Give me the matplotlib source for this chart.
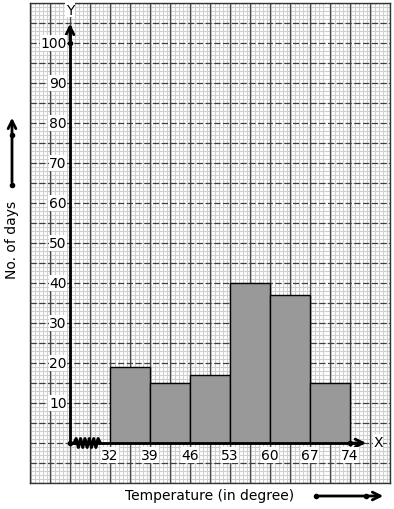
import numpy as np
import matplotlib.pyplot as plt
from matplotlib.ticker import MultipleLocator

# Adatok
edges = [32, 39, 46, 53, 60, 67, 74]
days = [19, 15, 17, 40, 37, 15]
y_labels = [10, 20, 30, 40, 50, 60, 70, 80, 90, 100]

fig = plt.figure(figsize=(3.94, 5.10), dpi=100)
ax = fig.add_axes([30 / 394, 26 / 510, 360 / 394, 480 / 510])
ax.set_xlim(18, 81)
ax.set_ylim(-10, 110)

# millimeterpapir
ax.xaxis.set_minor_locator(MultipleLocator(0.7))
ax.yaxis.set_minor_locator(MultipleLocator(1))
ax.grid(which="minor", color="#cfcfcf", lw=0.8)
ax.set_axisbelow(True)
ax.vlines(np.arange(18, 81.1, 3.5), -10, 110, color="#4a4a4a", lw=0.9, zorder=1)
ax.hlines(np.arange(-10, 110.1, 5), 18, 81, color="#404040", lw=0.9, ls=(0, (5, 2)), zorder=1)
ax.tick_params(which="both", length=0, labelbottom=False, labelleft=False)
for s in ax.spines.values():
    s.set_color("#333333")
    s.set_linewidth(1)

# hisztogram
ax.bar(edges[:-1], days, width=np.diff(edges), align="edge", color="#999999",
       edgecolor="black", lw=1, zorder=3)

# tengelyek
ax.plot([25, 25], [0, 104], color="black", lw=2, zorder=4)
ax.annotate("", xy=(25, 105.5), xytext=(25, 100), arrowprops=dict(arrowstyle="->", lw=2, mutation_scale=14), zorder=4)
ax.plot([25, 76], [0, 0], color="black", lw=2, zorder=4)
ax.annotate("", xy=(77.3, 0), xytext=(74, 0), arrowprops=dict(arrowstyle="->", lw=2, mutation_scale=14), zorder=4)
ax.plot([25, 25, 74], [100, 0, 0], "o", color="black", ms=3, zorder=5)
ax.text(25, 108.3, "Y", ha="center", va="center", fontsize=10,
        bbox=dict(fc="white", ec="none", pad=0.5), zorder=5)
ax.text(78.9, 0.3, "X", ha="center", va="center", fontsize=10,
        bbox=dict(fc="white", ec="none", pad=0.5), zorder=5)

# torespont (cikkcakk)
zx = np.linspace(25.7, 30.3, 13)
zy = np.where(np.arange(13) % 2 == 0, -1.1, 1.1)
zy[0] = zy[-1] = 0
ax.plot(zx, zy, color="black", lw=2.2, zorder=5)

for v in y_labels:
    ax.text(24.4, v, str(v), ha="right", va="center", fontsize=10,
            bbox=dict(fc="white", ec="none", pad=0.4), zorder=5)
for e in edges:
    ax.text(e, -3.0, str(e), ha="center", va="center", fontsize=10,
            bbox=dict(fc="white", ec="none", pad=0.4), zorder=5)

# feliratok es skala nyilak
ax.text(49.5, -13.0, "Temperature (in degree)", ha="center", va="center", fontsize=10, clip_on=False)
ax.text(14.85, 51, "No. of days", ha="center", va="center", rotation=90, fontsize=10, clip_on=False)
ax.annotate("", xy=(14.85, 82), xytext=(14.85, 64.5), xycoords="data",
            arrowprops=dict(arrowstyle="->", lw=2, mutation_scale=14), annotation_clip=False)
ax.plot([14.85, 14.85], [64.5, 77], "o", color="black", ms=3, clip_on=False)
ax.annotate("", xy=(80.3, -13.25), xytext=(68.05, -13.25), xycoords="data",
            arrowprops=dict(arrowstyle="->", lw=2, mutation_scale=14), annotation_clip=False)
ax.plot([68.05, 76.8], [-13.25, -13.25], "o", color="black", ms=3, clip_on=False)

fig.savefig("out.png", dpi=100)
